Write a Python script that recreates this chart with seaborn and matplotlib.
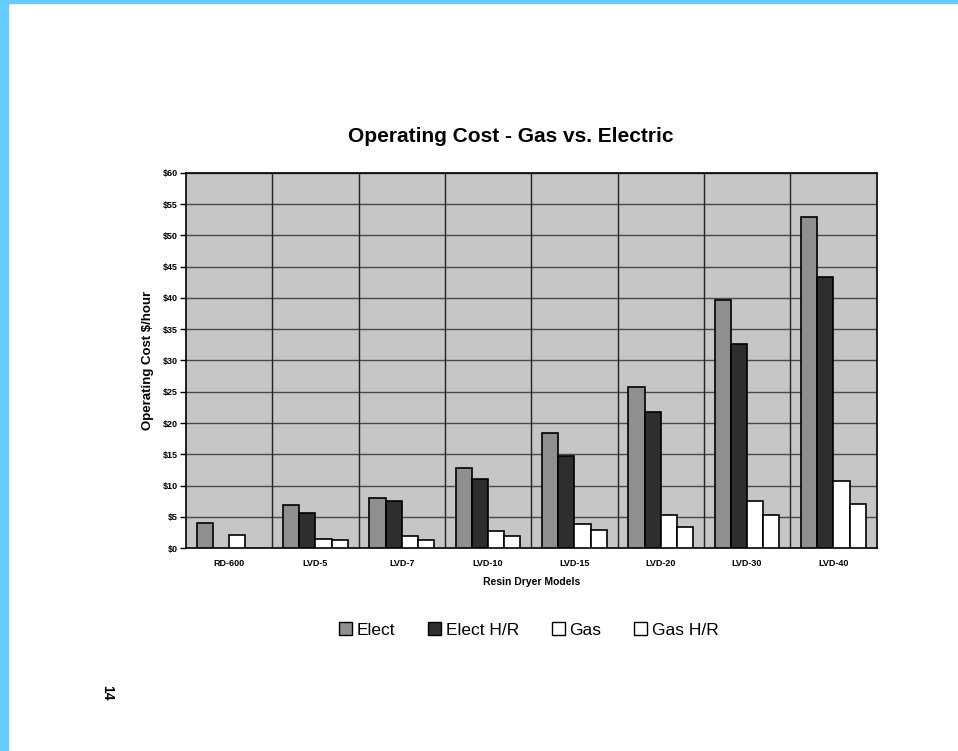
import matplotlib
matplotlib.use("Agg")
import matplotlib.pyplot as plt
import seaborn as sns
import numpy as np
import pandas as pd
from matplotlib.patches import Patch, Rectangle

models = ["RD-600", "LVD-5", "LVD-7", "LVD-10", "LVD-15", "LVD-20", "LVD-30", "LVD-40"]
series = ["Elect", "Elect H/R", "Gas", "Gas H/R"]
elect = [4.1, 6.9, 8.0, 12.8, 18.4, 25.7, 39.7, 52.9]
elect_hr = [np.nan, 5.6, 7.5, 11.0, 14.8, 21.7, 32.7, 43.3]
gas = [2.1, 1.5, 2.0, 2.7, 3.9, 5.3, 7.5, 10.7]
gas_hr = [np.nan, 1.3, 1.25, 1.9, 2.85, 3.4, 5.3, 7.1]
y_ticks = list(range(0, 61, 5))
y_labels = [f"${v}" for v in y_ticks]

rows = []
for s, vals in zip(series, [elect, elect_hr, gas, gas_hr]):
    for m, v in zip(models, vals):
        rows.append({"Model": m, "Series": s, "Cost": v})
df = pd.DataFrame(rows)

sns.set_theme(style="white")
plt.rcParams["font.family"] = ["Liberation Sans", "DejaVu Sans"]
plt.rcParams["text.color"] = "black"
plt.rcParams["axes.labelcolor"] = "black"
plt.rcParams["xtick.color"] = "black"
plt.rcParams["ytick.color"] = "black"

fig = plt.figure(figsize=(9.58, 7.51), dpi=100)
fig.patch.set_facecolor("white")
ax = fig.add_axes([0.194, 0.270, 0.721, 0.500])

colors = {"Elect": "#8f8f8f", "Elect H/R": "#2e2e2e", "Gas": "#ffffff", "Gas H/R": "#ffffff"}
sns.barplot(data=df, x="Model", y="Cost", hue="Series", hue_order=series,
            order=models, palette=colors, edgecolor="black", linewidth=1.2,
            width=0.75, ax=ax, legend=False, zorder=3)

ax.set_facecolor("#c6c6c6")
ax.set_ylim(0, 60)
ax.set_xlim(-0.5, len(models) - 0.5)
ax.set_yticks(y_ticks)
ax.set_yticklabels(y_labels, fontsize=6.5, fontweight="bold")
ax.set_xticks(range(len(models)))
ax.set_xticklabels(models, fontsize=6.5, fontweight="bold")
ax.tick_params(axis="x", length=0, pad=8)
ax.tick_params(axis="y", length=4, width=1, direction="out", left=True, pad=2)
for y in y_ticks[1:]:
    ax.axhline(y, color="#4a4a4a", lw=1.0, zorder=1)
for x in np.arange(0.5, len(models) - 0.5, 1):
    ax.axvline(x, color="#222222", lw=1.0, zorder=1)
for sp in ax.spines.values():
    sp.set_color("black")
    sp.set_linewidth(1.2)
ax.set_xlabel("Resin Dryer Models", fontsize=7.5, fontweight="bold", labelpad=6)
ax.set_ylabel("Operating Cost $/hour", fontsize=9.5, fontweight="bold", labelpad=6)

fig.text(0.533, 0.818, "Operating Cost - Gas vs. Electric", ha="center", va="center",
         fontsize=15, fontweight="bold")

handles = [Patch(facecolor=colors[s], edgecolor="black", linewidth=1.0) for s in series]
fig.legend(handles, series, loc="center", bbox_to_anchor=(0.552, 0.161), ncol=4,
           frameon=False, fontsize=12.5, handlelength=0.75, handleheight=0.75,
           handletextpad=0.25, columnspacing=1.9)

fig.text(0.112, 0.078, "14", rotation=-90, ha="center", va="center", fontsize=10, fontweight="bold")

# blue page border
fig.patches.append(Rectangle((0, 0), 8 / 958, 1, transform=fig.transFigure, color="#66ccff", zorder=10))
fig.patches.append(Rectangle((0, 1 - 3 / 751), 1, 3 / 751, transform=fig.transFigure, color="#66ccff", zorder=10))

fig.savefig("out.png", dpi=100, facecolor="white")
